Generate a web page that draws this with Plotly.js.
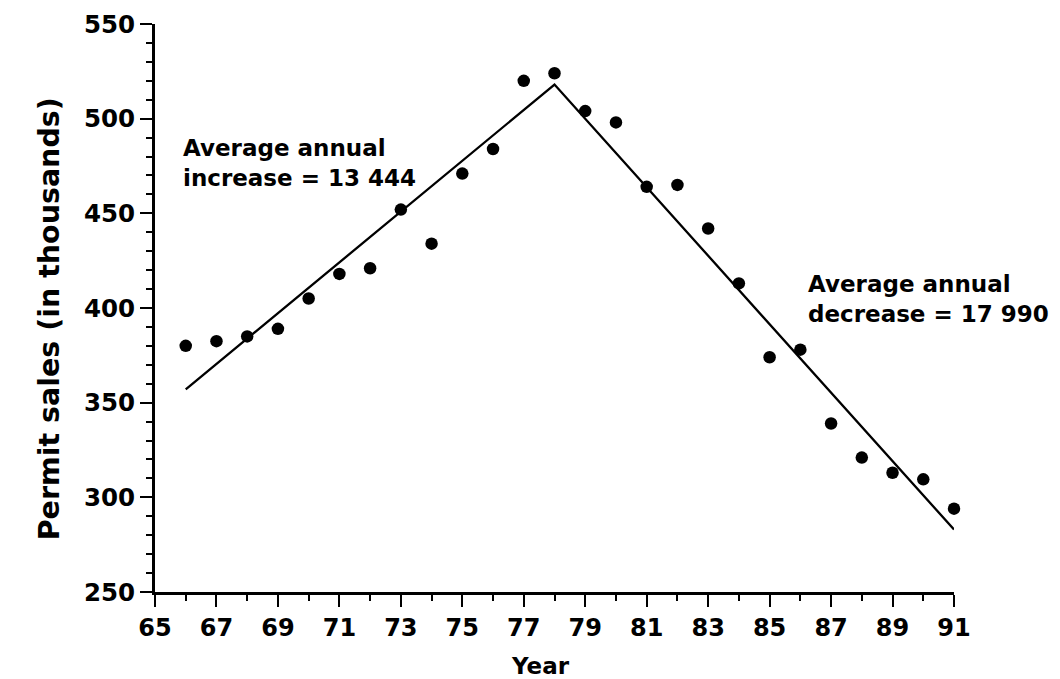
<!DOCTYPE html>
<html>
<head>
<meta charset="utf-8">
<script src="https://cdn.plot.ly/plotly-3.0.1.min.js"></script>
<style>html,body{margin:0;padding:0;background:#fff;}#chart{width:1060px;height:679px;}</style>
</head>
<body>
<div id="chart"></div>
<script>
// Observed permit sales (thousands) by year
const years = [66,67,68,69,70,71,72,73,74,75,76,77,78,79,80,81,82,83,84,85,86,87,88,89,90,91];
const sales = [380,382.5,385,389,405,418,421,452,434,471,484,520,524,504,498,464,465,442,413,374,378,339,321,313,309.5,294];
// Fitted trend lines (endpoints)
const trendYears = [66,78,91];
const trendSales = [357,518,283];
const xTickVals = [65,67,69,71,73,75,77,79,81,83,85,87,89,91];
const yTickVals = [250,300,350,400,450,500,550];
const noteUp = "Average annual<br>increase = 13 444";
const noteDown = "Average annual<br>decrease = 17 990";
const xTitle = "Year";
const yTitle = "Permit sales (in thousands)";

const FONT = "DejaVu Sans, Liberation Sans, Arial, sans-serif";

const data = [
  {x: trendYears, y: trendSales, mode: 'lines', type: 'scatter',
   line: {color: '#000', width: 2.3}, hoverinfo: 'skip', cliponaxis: false},
  {x: years, y: sales, mode: 'markers', type: 'scatter', cliponaxis: false,
   marker: {color: '#000', size: 12.5}}
];

const layout = {
  width: 1060, height: 679,
  margin: {l: 155, r: 106, t: 24, b: 87},
  paper_bgcolor: '#fff', plot_bgcolor: '#fff',
  showlegend: false,
  font: {family: FONT, color: '#000'},
  xaxis: {
    range: [65, 91], showgrid: false, zeroline: false,
    showline: true, linecolor: '#000', linewidth: 3,
    tickmode: 'array', tickvals: xTickVals,
    ticks: 'outside', ticklen: 12, tickwidth: 2, tickcolor: '#000',
    tickfont: {family: FONT, size: 24, weight: 'bold'},
    minor: {dtick: 1, tick0: 65, ticks: 'outside', ticklen: 6, tickwidth: 2, tickcolor: '#000', showgrid: false}
  },
  yaxis: {
    range: [250, 550], showgrid: false, zeroline: false,
    showline: true, linecolor: '#000', linewidth: 3,
    tickmode: 'array', tickvals: yTickVals,
    ticks: 'outside', ticklen: 12, tickwidth: 2, tickcolor: '#000',
    tickfont: {family: FONT, size: 24.5, weight: 'bold'},
    minor: {dtick: 10, tick0: 250, ticks: 'outside', ticklen: 6, tickwidth: 2, tickcolor: '#000', showgrid: false}
  },
  annotations: [
    {x: 65.85, y: 492.5, xref: 'x', yref: 'y', xanchor: 'left', yanchor: 'top', align: 'left',
     showarrow: false, text: '<b>' + noteUp + '</b>', font: {family: FONT, size: 23, color: '#000'}},
    {x: 86.2, y: 420.5, xref: 'x', yref: 'y', xanchor: 'left', yanchor: 'top', align: 'left',
     showarrow: false, text: '<b>' + noteDown + '</b>', font: {family: FONT, size: 23, color: '#000'}},
    {x: 0.482, y: -0.13, xref: 'paper', yref: 'paper', xanchor: 'center', yanchor: 'middle',
     showarrow: false, text: '<b>' + xTitle + '</b>', font: {family: FONT, size: 23, color: '#000'}},
    {x: -0.132, y: 0.481, xref: 'paper', yref: 'paper', xanchor: 'center', yanchor: 'middle',
     showarrow: false, textangle: -90, text: '<b>' + yTitle + '</b>', font: {family: FONT, size: 28.5, color: '#000'}}
  ]
};

Plotly.newPlot('chart', data, layout, {displayModeBar: false, staticPlot: true});
</script>
</body>
</html>
